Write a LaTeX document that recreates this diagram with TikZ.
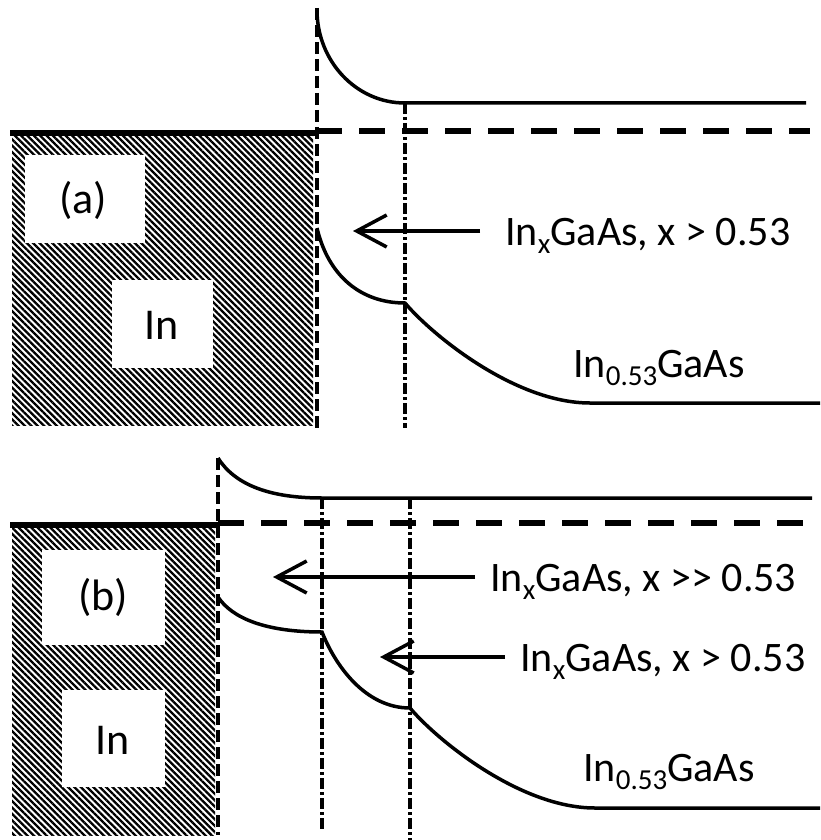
\documentclass[tikz,border=0pt]{standalone}
\usepackage{fontspec}
\setmainfont{Carlito}
\usetikzlibrary{patterns.meta,arrows.meta}

\newcommand{\lowsub}[1]{\raisebox{-8pt}{\fontsize{29}{29}\selectfont #1}}

\begin{document}
\begin{tikzpicture}[x=1pt,y=-1pt,band/.style={line width=3.5pt},bulk/.style={pattern={Lines[angle=-45,distance=4.5pt,line width=2.3pt]}},edge/.style={line width=5.5pt},fermi/.style={line width=5.5pt,dash pattern=on 26pt off 17pt},iface/.style={line width=4.5pt,dash pattern=on 12pt off 5pt},layer/.style={line width=4pt,dash pattern=on 11pt off 3pt on 3pt off 3pt},lbl/.style={font=\fontsize{42}{46}\selectfont,inner sep=0pt,anchor=base west},big/.style={font=\fontsize{44}{48}\selectfont,inner sep=0pt},pointer/.style={line width=3.5pt,-{Straight Barb[length=30pt,width=32pt,line width=3.5pt]}}]
\useasboundingbox (0,0) rectangle (820,840);

% (a)
\fill[bulk] (12,133) rectangle (313,425);
\fill[white] (25,155) rectangle (145,243);
\fill[white] (112,280) rectangle (213,368);
\node[big] (tagA) at (83,200) {(a)};
\node[big] (inA) at (162,325) {In};
\draw[edge] (10,133) -- (316,133);

\coordinate (a0) at (317,10);
\coordinate (a1) at (405,103);
\coordinate (a2) at (806,103);
\coordinate (a3) at (317,228);
\coordinate (a4) at (405,303);
\coordinate (a5) at (590,403);
\coordinate (a6) at (820,403);
\draw[band] (a0) .. controls (317,61) and (356,103) .. (a1) -- (a2);
\draw[band] (a3) .. controls (328,275) and (360,303) .. (a4) .. controls (432,335) and (515,403) .. (a5) -- (a6);

\draw[iface] (317,8) -- (317,428);
\draw[layer] (a1) -- (405,428);
\draw[fermi] (316,131) -- (810,131);

\node[lbl] (labA) at (505,245) {In\lowsub{x}GaAs, x > 0.53};
\node[lbl] (endA) at (573,377) {In\lowsub{0.53}GaAs};
\coordinate (tipA) at (353,231);
\draw[pointer,shorten <=25pt] (tipA -| labA.west) -- (tipA);

% (b)
\fill[bulk] (12,525) rectangle (215,835);
\fill[white] (42,550) rectangle (165,645);
\fill[white] (62,690) rectangle (165,787);
\node[big] (tagB) at (103,597) {(b)};
\node[big] (inB) at (113,740) {In};
\draw[edge] (10,525) -- (218,525);

\coordinate (b0) at (218,458);
\coordinate (b1) at (322,498);
\coordinate (b2) at (812,498);
\coordinate (b3) at (218,597);
\coordinate (b4) at (322,632);
\coordinate (b5) at (410,708);
\coordinate (b6) at (595,808);
\coordinate (b7) at (820,808);
\draw[band] (b0) .. controls (235,485) and (270,498) .. (b1) -- (b2);
\draw[band] (b3) .. controls (232,618) and (265,632) .. (b4) .. controls (335,665) and (365,708) .. (b5) .. controls (437,740) and (520,808) .. (b6) -- (b7);

\draw[iface] (218,458) -- (218,835);
\draw[layer] (b1) -- (322,832);
\draw[layer] (410,498) -- (410,840);
\draw[fermi] (218,523) -- (812,523);

\node[lbl] (labB) at (490,591) {In\lowsub{x}GaAs, x {>}{>} 0.53};
\node[lbl] (labC) at (520,671) {In\lowsub{x}GaAs, x > 0.53};
\node[lbl] (endB) at (583,781) {In\lowsub{0.53}GaAs};
\coordinate (tipB) at (273,577);
\coordinate (tipC) at (380,657);
\draw[pointer,shorten <=15pt] (tipB -| labB.west) -- (tipB);
\draw[pointer,shorten <=15pt] (tipC -| labC.west) -- (tipC);
\end{tikzpicture}
\end{document}
